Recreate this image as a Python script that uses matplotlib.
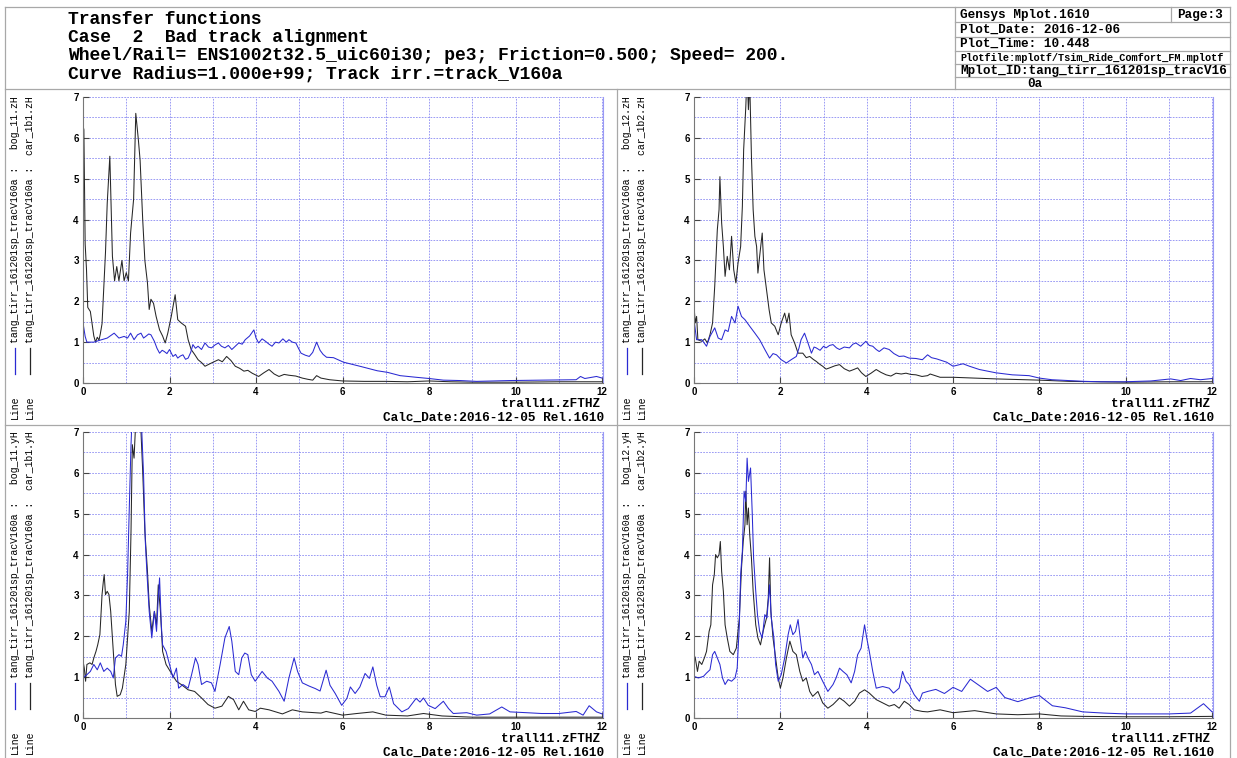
import matplotlib.pyplot as plt
from matplotlib.lines import Line2D

W, H = 1237, 758
MONO = "Liberation Mono"
SANS = "Liberation Sans"
BLUE = "#2a2ad2"
BLACK = "#262626"
GRID = "#8a8af2"
FRAME = "#a8a8a8"

# ---- transfer functions: (frequency [Hz], magnitude) ----
# top left: zH  bog_11 / car_1b1
TL_BOG = [(0.0, 1.47), (0.05, 1.14), (0.09, 1.00), (0.25, 1.00), (0.40, 1.05), (0.56, 1.10),
          (0.72, 1.22), (0.83, 1.10), (0.95, 1.14), (1.03, 1.10), (1.10, 1.22), (1.18, 1.06),
          (1.26, 1.18), (1.34, 1.22), (1.40, 1.10), (1.45, 1.14), (1.52, 1.20), (1.57, 1.18),
          (1.65, 1.02), (1.71, 0.85), (1.77, 0.73), (1.83, 0.80), (1.88, 0.77), (1.94, 0.72),
          (2.00, 0.82), (2.08, 0.65), (2.14, 0.70), (2.19, 0.61), (2.25, 0.66), (2.31, 0.69),
          (2.37, 0.58), (2.43, 0.61), (2.49, 0.75), (2.54, 0.94), (2.60, 0.85), (2.66, 0.90),
          (2.74, 0.82), (2.82, 0.98), (2.90, 0.88), (2.97, 0.86), (3.05, 0.93), (3.13, 0.98),
          (3.20, 0.90), (3.28, 0.86), (3.36, 0.92), (3.44, 0.82), (3.52, 0.90), (3.60, 0.98),
          (3.68, 0.95), (3.75, 1.06), (3.85, 1.15), (3.95, 1.30), (4.00, 1.10), (4.06, 0.98),
          (4.14, 1.08), (4.22, 1.02), (4.30, 0.95), (4.37, 0.90), (4.45, 1.00), (4.53, 0.98),
          (4.62, 1.08), (4.70, 1.00), (4.76, 1.06), (4.84, 1.00), (4.92, 0.98), (4.98, 0.85),
          (5.04, 0.73), (5.14, 0.68), (5.23, 0.65), (5.31, 0.75), (5.40, 1.00), (5.48, 0.80),
          (5.55, 0.70), (5.63, 0.63), (5.79, 0.62), (6.02, 0.51), (6.40, 0.41), (6.80, 0.30),
          (7.04, 0.26), (7.33, 0.18), (7.70, 0.14), (8.00, 0.11), (8.33, 0.07), (8.72, 0.06),
          (9.10, 0.04), (9.87, 0.06), (10.6, 0.07), (11.4, 0.08), (11.5, 0.16), (11.6, 0.11),
          (11.87, 0.16), (12.0, 0.12)]
TL_CAR = [(0.0, 6.30), (0.02, 6.20), (0.05, 3.40), (0.08, 2.80), (0.11, 1.85), (0.17, 1.75),
          (0.25, 1.15), (0.29, 1.00), (0.33, 1.12), (0.37, 1.05), (0.40, 1.20), (0.44, 1.45),
          (0.52, 3.20), (0.56, 4.40), (0.62, 5.55), (0.68, 3.10), (0.73, 2.50), (0.78, 2.85),
          (0.83, 2.50), (0.90, 3.00), (0.95, 2.50), (1.00, 2.70), (1.05, 2.50), (1.10, 3.67),
          (1.17, 4.50), (1.22, 6.60), (1.28, 5.95), (1.32, 5.45), (1.38, 4.00), (1.43, 3.00),
          (1.49, 2.45), (1.53, 1.80), (1.57, 2.05), (1.63, 1.95), (1.69, 1.63), (1.77, 1.30),
          (1.84, 1.15), (1.90, 0.98), (1.96, 1.22), (2.04, 1.63), (2.13, 2.16), (2.19, 1.55),
          (2.27, 1.47), (2.37, 1.39), (2.43, 1.06), (2.50, 0.82), (2.58, 0.70), (2.66, 0.57),
          (2.74, 0.50), (2.82, 0.41), (2.97, 0.49), (3.13, 0.57), (3.22, 0.52), (3.32, 0.65),
          (3.42, 0.55), (3.52, 0.41), (3.62, 0.36), (3.72, 0.29), (3.81, 0.31), (3.91, 0.24),
          (4.06, 0.16), (4.18, 0.25), (4.30, 0.33), (4.42, 0.22), (4.53, 0.16), (4.65, 0.21),
          (4.76, 0.19), (4.92, 0.17), (5.07, 0.12), (5.20, 0.09), (5.31, 0.07), (5.40, 0.18),
          (5.50, 0.12), (5.70, 0.08), (6.00, 0.05), (6.50, 0.04), (7.00, 0.04), (7.50, 0.03),
          (8.00, 0.05), (8.50, 0.03), (9.00, 0.02), (10.0, 0.02), (11.0, 0.03), (12.0, 0.03)]

# top right: zH  bog_12 / car_1b2
TR_BOG = [(0.0, 1.55), (0.06, 1.06), (0.18, 1.06), (0.29, 0.90), (0.37, 1.14), (0.48, 1.35),
          (0.56, 1.10), (0.64, 1.06), (0.72, 1.30), (0.79, 1.26), (0.87, 1.63), (0.95, 1.47),
          (1.02, 1.88), (1.10, 1.63), (1.18, 1.55), (1.29, 1.39), (1.41, 1.22), (1.52, 1.06),
          (1.64, 0.82), (1.75, 0.61), (1.83, 0.72), (1.91, 0.69), (2.02, 0.57), (2.14, 0.49),
          (2.25, 0.57), (2.37, 0.65), (2.43, 0.85), (2.48, 1.06), (2.56, 1.22), (2.64, 0.98),
          (2.72, 0.73), (2.78, 0.88), (2.83, 0.86), (2.92, 0.80), (3.00, 0.90), (3.06, 0.86),
          (3.14, 0.92), (3.22, 0.94), (3.30, 0.86), (3.37, 0.82), (3.48, 0.88), (3.60, 0.86),
          (3.68, 0.95), (3.75, 0.98), (3.86, 0.90), (3.98, 1.02), (4.06, 0.92), (4.14, 0.90),
          (4.22, 0.82), (4.29, 0.77), (4.40, 0.86), (4.52, 0.82), (4.63, 0.72), (4.75, 0.65),
          (4.86, 0.66), (4.98, 0.61), (5.14, 0.60), (5.29, 0.57), (5.41, 0.69), (5.50, 0.62),
          (5.62, 0.59), (5.85, 0.51), (6.00, 0.41), (6.23, 0.47), (6.38, 0.41), (6.61, 0.33),
          (6.99, 0.25), (7.37, 0.20), (7.76, 0.18), (8.00, 0.12), (8.29, 0.08), (8.67, 0.06),
          (9.05, 0.04), (9.43, 0.03), (9.97, 0.03), (10.58, 0.05), (11.04, 0.10), (11.27, 0.06),
          (11.5, 0.11), (11.73, 0.08), (12.0, 0.11)]
TR_CAR = [(0.0, 1.88), (0.03, 1.47), (0.06, 1.63), (0.09, 1.06), (0.18, 1.02), (0.25, 1.08),
          (0.31, 0.98), (0.37, 1.18), (0.43, 1.47), (0.48, 2.37), (0.54, 3.75), (0.58, 4.24),
          (0.60, 5.05), (0.64, 3.92), (0.68, 3.34), (0.72, 2.61), (0.77, 3.10), (0.82, 2.77),
          (0.87, 3.59), (0.92, 2.77), (0.97, 2.45), (1.02, 2.94), (1.08, 3.34), (1.12, 4.32),
          (1.15, 5.71), (1.20, 6.77), (1.23, 7.60), (1.26, 6.69), (1.29, 7.40), (1.33, 5.55),
          (1.37, 4.24), (1.41, 3.59), (1.45, 3.34), (1.48, 2.69), (1.52, 3.10), (1.58, 3.67),
          (1.62, 2.77), (1.68, 2.28), (1.74, 1.79), (1.79, 1.47), (1.87, 1.39), (1.95, 1.18),
          (2.02, 1.47), (2.10, 1.71), (2.15, 1.47), (2.20, 1.71), (2.25, 1.18), (2.33, 0.98),
          (2.41, 0.73), (2.52, 0.73), (2.60, 0.62), (2.68, 0.65), (2.76, 0.58), (2.83, 0.53),
          (2.91, 0.46), (2.98, 0.41), (3.06, 0.34), (3.14, 0.37), (3.26, 0.42), (3.37, 0.45),
          (3.48, 0.35), (3.60, 0.29), (3.70, 0.33), (3.79, 0.37), (3.88, 0.25), (3.98, 0.16),
          (4.10, 0.24), (4.22, 0.33), (4.33, 0.26), (4.45, 0.20), (4.56, 0.17), (4.68, 0.24),
          (4.80, 0.22), (4.91, 0.24), (5.02, 0.21), (5.14, 0.20), (5.28, 0.16), (5.41, 0.18),
          (5.47, 0.22), (5.70, 0.14), (6.00, 0.14), (6.50, 0.12), (7.00, 0.10), (8.00, 0.07),
          (8.70, 0.04), (10.0, 0.02), (11.0, 0.03), (12.0, 0.03)]

# bottom left: yH  bog_11 / car_1b1
BL_BOG = [(0.0, 0.98), (0.09, 1.06), (0.17, 1.14), (0.25, 1.31), (0.33, 1.18), (0.40, 1.35),
          (0.48, 1.14), (0.56, 1.22), (0.64, 1.14), (0.70, 0.98), (0.75, 1.47), (0.83, 1.55),
          (0.89, 1.51), (0.93, 1.79), (0.99, 2.37), (1.03, 3.51), (1.07, 5.14), (1.11, 6.69),
          (1.14, 7.50), (1.34, 7.50), (1.40, 5.95), (1.44, 4.32), (1.48, 3.51), (1.53, 2.61),
          (1.59, 1.96), (1.65, 2.61), (1.70, 2.12), (1.74, 2.94), (1.77, 3.43), (1.81, 2.28),
          (1.84, 1.79), (1.92, 1.63), (2.00, 1.31), (2.08, 0.98), (2.16, 1.22), (2.21, 0.73),
          (2.31, 0.82), (2.43, 0.73), (2.51, 1.06), (2.60, 1.47), (2.66, 1.31), (2.74, 0.82),
          (2.86, 0.90), (2.97, 0.86), (3.05, 0.65), (3.17, 1.31), (3.28, 1.96), (3.38, 2.24),
          (3.44, 1.88), (3.52, 1.14), (3.60, 1.06), (3.67, 1.47), (3.74, 1.59), (3.81, 1.55),
          (3.89, 1.06), (3.98, 0.90), (4.14, 1.14), (4.26, 0.98), (4.37, 0.90), (4.53, 0.65),
          (4.65, 0.41), (4.76, 0.98), (4.88, 1.47), (4.96, 1.14), (5.07, 0.86), (5.23, 0.78),
          (5.37, 0.72), (5.48, 0.66), (5.62, 1.17), (5.71, 0.80), (5.83, 0.60), (5.98, 0.31),
          (6.10, 0.48), (6.18, 0.76), (6.29, 0.60), (6.40, 0.76), (6.52, 1.09), (6.62, 0.97),
          (6.70, 1.25), (6.79, 0.80), (6.87, 0.52), (6.98, 0.52), (7.08, 0.76), (7.18, 0.35),
          (7.37, 0.15), (7.52, 0.23), (7.70, 0.48), (7.79, 0.39), (7.87, 0.49), (7.98, 0.31),
          (8.14, 0.23), (8.33, 0.41), (8.45, 0.23), (8.56, 0.11), (8.87, 0.13), (9.10, 0.07),
          (9.40, 0.10), (9.68, 0.27), (9.87, 0.15), (10.25, 0.13), (10.6, 0.11), (11.0, 0.11),
          (11.4, 0.16), (11.56, 0.07), (11.7, 0.30), (11.87, 0.15), (12.0, 0.10)]
BL_CAR = [(0.0, 1.39), (0.03, 1.22), (0.06, 0.90), (0.09, 1.31), (0.16, 1.35), (0.21, 1.31),
          (0.25, 1.47), (0.30, 1.63), (0.34, 1.79), (0.39, 2.04), (0.42, 2.61), (0.44, 3.02),
          (0.47, 3.34), (0.49, 3.51), (0.52, 3.02), (0.56, 3.10), (0.60, 3.02), (0.64, 2.61),
          (0.68, 1.96), (0.72, 1.31), (0.75, 0.82), (0.79, 0.53), (0.86, 0.57), (0.91, 0.73),
          (0.99, 1.31), (1.07, 2.61), (1.11, 4.57), (1.14, 6.69), (1.18, 6.36), (1.23, 7.50),
          (1.32, 7.50), (1.38, 6.04), (1.43, 4.57), (1.49, 3.59), (1.53, 2.77), (1.59, 2.12),
          (1.65, 2.61), (1.70, 2.28), (1.74, 3.26), (1.79, 2.61), (1.84, 1.63), (1.92, 1.31),
          (2.04, 1.10), (2.16, 0.90), (2.27, 0.82), (2.43, 0.69), (2.58, 0.65), (2.74, 0.49),
          (2.89, 0.33), (3.05, 0.24), (3.21, 0.29), (3.36, 0.53), (3.48, 0.45), (3.60, 0.20),
          (3.71, 0.41), (3.83, 0.20), (3.98, 0.16), (4.10, 0.24), (4.30, 0.20), (4.61, 0.10),
          (4.84, 0.20), (5.07, 0.15), (5.50, 0.12), (5.62, 0.16), (6.00, 0.07), (6.33, 0.11),
          (6.70, 0.15), (7.00, 0.07), (7.50, 0.05), (7.87, 0.11), (8.30, 0.05), (9.00, 0.02),
          (10.0, 0.02), (12.0, 0.02)]

# bottom right: yH  bog_12 / car_1b2
BR_BOG = [(0.0, 1.02), (0.10, 0.98), (0.22, 1.02), (0.29, 1.10), (0.37, 1.18), (0.43, 1.55),
          (0.48, 1.63), (0.54, 1.47), (0.60, 1.31), (0.66, 0.98), (0.72, 0.82), (0.79, 0.94),
          (0.87, 0.90), (0.95, 0.98), (1.00, 1.22), (1.05, 2.28), (1.08, 3.51), (1.12, 4.08),
          (1.16, 5.55), (1.20, 5.30), (1.23, 6.36), (1.26, 5.79), (1.31, 6.12), (1.35, 4.98),
          (1.38, 3.92), (1.43, 3.10), (1.47, 2.53), (1.52, 2.12), (1.58, 1.96), (1.64, 2.53),
          (1.69, 2.45), (1.75, 3.26), (1.79, 2.45), (1.85, 1.96), (1.89, 1.31), (1.95, 0.90),
          (2.02, 1.06), (2.10, 1.47), (2.18, 2.04), (2.23, 2.28), (2.29, 2.04), (2.35, 2.12),
          (2.41, 2.41), (2.46, 1.96), (2.52, 1.47), (2.58, 1.63), (2.64, 1.47), (2.72, 1.31),
          (2.79, 1.06), (2.87, 1.14), (2.98, 0.90), (3.10, 0.65), (3.22, 0.82), (3.29, 0.98),
          (3.37, 1.22), (3.45, 1.14), (3.54, 1.06), (3.64, 0.86), (3.72, 1.14), (3.79, 1.55),
          (3.87, 1.71), (3.95, 2.28), (4.00, 1.96), (4.06, 1.63), (4.14, 1.14), (4.22, 0.73),
          (4.37, 0.77), (4.52, 0.73), (4.62, 0.61), (4.75, 0.73), (4.83, 1.14), (4.91, 0.90),
          (4.98, 0.82), (5.10, 0.57), (5.22, 0.41), (5.29, 0.61), (5.41, 0.65), (5.60, 0.70),
          (5.80, 0.60), (6.00, 0.75), (6.20, 0.65), (6.40, 0.95), (6.60, 0.80), (6.80, 0.65),
          (7.00, 0.75), (7.20, 0.50), (7.50, 0.40), (7.80, 0.50), (8.00, 0.55), (8.30, 0.30),
          (8.60, 0.25), (9.00, 0.15), (9.50, 0.12), (10.0, 0.10), (10.5, 0.10), (11.0, 0.10),
          (11.5, 0.12), (11.8, 0.35), (12.0, 0.15)]
BR_CAR = [(0.0, 1.55), (0.03, 1.47), (0.08, 1.14), (0.12, 1.39), (0.18, 1.31), (0.24, 1.47),
          (0.29, 1.63), (0.35, 2.12), (0.39, 2.28), (0.43, 3.26), (0.47, 3.51), (0.50, 4.00),
          (0.54, 3.92), (0.58, 4.00), (0.61, 4.32), (0.64, 3.59), (0.68, 3.10), (0.72, 2.28),
          (0.77, 1.96), (0.83, 1.63), (0.91, 1.55), (0.98, 1.71), (1.05, 2.45), (1.10, 3.67),
          (1.14, 4.32), (1.18, 4.73), (1.20, 5.55), (1.23, 4.73), (1.26, 5.14), (1.29, 4.49),
          (1.33, 3.92), (1.37, 3.10), (1.43, 2.28), (1.48, 1.96), (1.54, 1.79), (1.60, 2.12),
          (1.68, 2.45), (1.72, 2.94), (1.75, 3.92), (1.78, 2.61), (1.83, 1.96), (1.89, 1.47),
          (1.95, 0.98), (2.00, 0.73), (2.06, 0.98), (2.14, 1.47), (2.22, 1.88), (2.29, 1.63),
          (2.37, 1.55), (2.45, 1.14), (2.52, 0.90), (2.60, 0.98), (2.68, 0.65), (2.75, 0.53),
          (2.87, 0.65), (2.98, 0.37), (3.10, 0.24), (3.22, 0.33), (3.37, 0.49), (3.48, 0.41),
          (3.60, 0.29), (3.72, 0.41), (3.83, 0.61), (3.95, 0.69), (4.06, 0.61), (4.22, 0.45),
          (4.37, 0.37), (4.52, 0.29), (4.64, 0.33), (4.75, 0.24), (4.87, 0.41), (4.98, 0.33),
          (5.10, 0.20), (5.29, 0.16), (5.41, 0.15), (5.70, 0.20), (6.00, 0.13), (6.50, 0.18),
          (7.00, 0.10), (7.50, 0.08), (8.00, 0.10), (8.50, 0.05), (9.00, 0.04), (10.0, 0.03),
          (11.0, 0.03), (12.0, 0.04)]

HEADER = ["Transfer functions",
          "Case  2  Bad track alignment",
          "Wheel/Rail= ENS1002t32.5_uic60i30; pe3; Friction=0.500; Speed= 200.",
          "Curve Radius=1.000e+99; Track irr.=track_V160a"]
RUN_ID = "tang_tirr_161201sp_tracV160a"
XLABEL = "trall11.zFTHZ"
CALC = "Calc_Date:2016-12-05 Rel.1610"

# pixel boxes (left, top, right, bottom) and legend columns for each panel
PANELS = [
    dict(box=(83, 97, 603, 383), cols=(15, 30), bog=TL_BOG, car=TL_CAR,
         names=(":   bog_11.zH", ":  car_1b1.zH")),
    dict(box=(694, 97, 1213, 383), cols=(627, 642), bog=TR_BOG, car=TR_CAR,
         names=(":   bog_12.zH", ":  car_1b2.zH")),
    dict(box=(83, 432, 603, 718), cols=(15, 30), bog=BL_BOG, car=BL_CAR,
         names=(":   bog_11.yH", ":  car_1b1.yH")),
    dict(box=(694, 432, 1213, 718), cols=(627, 642), bog=BR_BOG, car=BR_CAR,
         names=(":   bog_12.yH", ":  car_1b2.yH")),
]


def fx(x):
    return x / W


def fy(y):
    return 1 - y / H


def seg(fig, x0, y0, x1, y1, color=FRAME, lw=0.9):
    fig.add_artist(Line2D([fx(x0), fx(x1)], [fy(y0), fy(y1)], color=color, lw=lw))


fig = plt.figure(figsize=(W / 100, H / 100), dpi=100)

# frame around header and panels
seg(fig, 5, 7, 1230, 7)
seg(fig, 5, 89, 1230, 89)
seg(fig, 5, 425, 1230, 425)
seg(fig, 5, 7, 5, 758)
seg(fig, 1230, 7, 1230, 758)
seg(fig, 617, 89, 617, 758)
seg(fig, 955, 7, 955, 89)
for y in (22, 37, 51, 64, 77):
    seg(fig, 955, y, 1230, y)
seg(fig, 1171, 7, 1171, 22)

for i, line in enumerate(HEADER):
    fig.text(fx(68), fy(20 + i * 18), line, family=MONO, weight="bold", size=13.0,
             va="center", ha="left")

info = [("Gensys Mplot.1610", 960, 15, 9.1), ("Page:3", 1177, 15, 9.1),
        ("Plot_Date: 2016-12-06", 960, 30, 9.1), ("Plot_Time: 10.448", 960, 44, 9.1),
        ("Plotfile:mplotf/Tsim_Ride_Comfort_FM.mplotf", 960, 58, 7.4),
        ("Mplot_ID:tang_tirr_161201sp_tracV16", 960, 71, 9.1), ("0a", 1027, 84, 9.1)]
for s, x, y, sz in info:
    fig.text(fx(x), fy(y), s, family=MONO, weight="bold", size=sz, va="center", ha="left")

for p in PANELS:
    l, t, r, b = p["box"]
    ax = fig.add_axes([fx(l), fy(b), (r - l) / W, (b - t) / H])
    f_car, m_car = zip(*p["car"])
    f_bog, m_bog = zip(*p["bog"])
    ax.plot(f_car, m_car, color=BLACK, lw=0.75)
    ax.plot(f_bog, m_bog, color=BLUE, lw=0.75)
    ax.set_xlim(0, 12.02)
    ax.set_ylim(0, 7)
    ax.set_xticks(range(0, 13, 2))
    ax.set_xticks(range(13), minor=True)
    ax.set_yticks(range(8))
    ax.set_yticks([v / 2 for v in range(15)], minor=True)
    ax.grid(which="both", color=GRID, ls=(0, (2, 1.5)), lw=0.6)
    ax.set_axisbelow(True)
    ax.tick_params(which="minor", length=0)
    ax.tick_params(which="major", direction="in", length=4, color="#444444", pad=3)
    for lab in ax.get_xticklabels() + ax.get_yticklabels():
        lab.set_family(SANS)
        lab.set_weight("bold")
        lab.set_size(7)
    ax.spines["top"].set_visible(False)
    ax.spines["right"].set_color("#9a9af5")
    ax.spines["left"].set_color("#777777")
    ax.spines["bottom"].set_color("#777777")

    fig.text(fx(r - 3), fy(b + 21), XLABEL, family=MONO, weight="bold", size=9.2,
             ha="right", va="center")
    fig.text(fx(r + 1), fy(b + 35), CALC, family=MONO, weight="bold", size=9.2,
             ha="right", va="center")

    # rotated legend: blue bogie line, black car body line
    for cx, color, name in zip(p["cols"], (BLUE, BLACK), p["names"]):
        fig.text(fx(cx), fy(b + 36), "Line", family=MONO, size=7.1, rotation=90,
                 ha="center", va="bottom")
        seg(fig, cx, b - 9, cx, b - 35, color=color, lw=0.9)
        fig.text(fx(cx), fy(b - 40), RUN_ID + " " + name, family=MONO, size=7.1,
                 rotation=90, ha="center", va="bottom")

fig.savefig("out.png", dpi=100)
